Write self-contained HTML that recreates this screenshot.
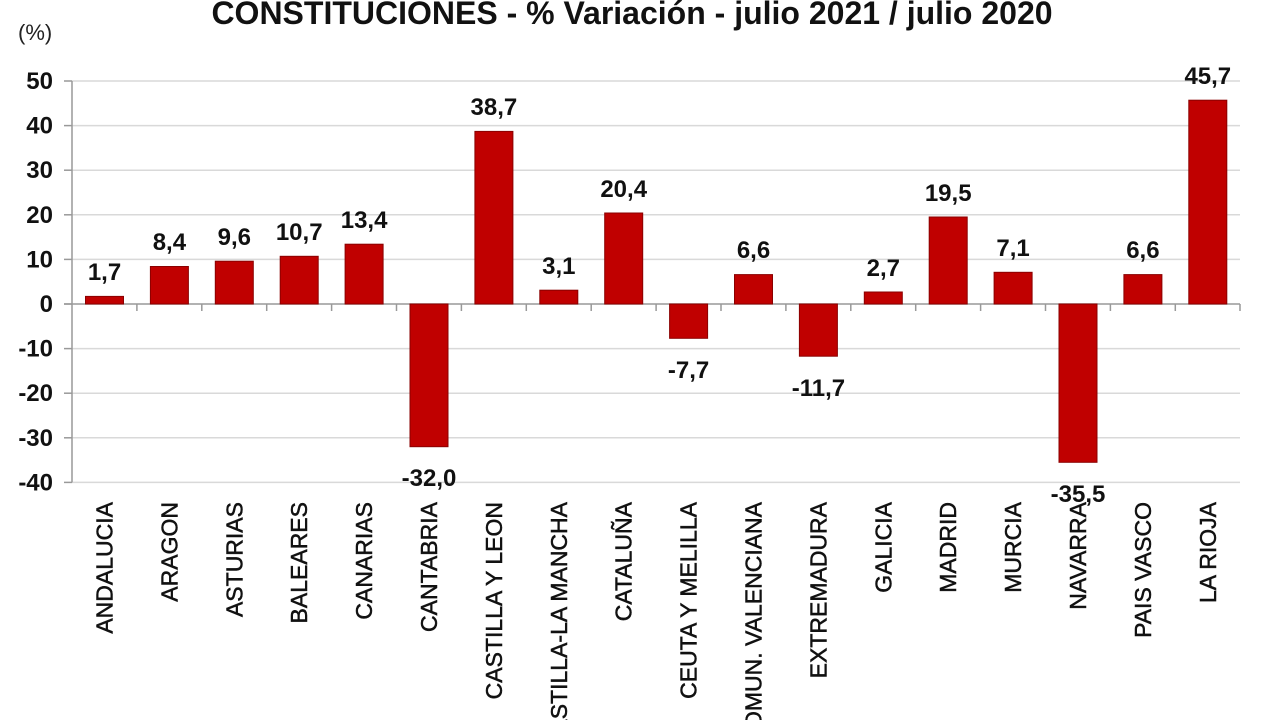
<!DOCTYPE html>
<html><head><meta charset="utf-8"><style>
html,body{margin:0;padding:0;background:#fff;}
svg{display:block;font-family:"Liberation Sans",sans-serif;}
</style></head><body>
<svg width="1280" height="720" viewBox="0 0 1280 720">
<text x="632" y="24" font-size="32" font-weight="bold" text-anchor="middle" fill="#111">CONSTITUCIONES - % Variación - julio 2021 / julio 2020</text>
<text x="18" y="40" font-size="22" fill="#222">(%)</text>
<g stroke="#d9d9d9" stroke-width="1.5">
<line x1="72" y1="81" x2="1240" y2="81"/><line x1="72" y1="125.6" x2="1240" y2="125.6"/><line x1="72" y1="170.2" x2="1240" y2="170.2"/><line x1="72" y1="214.8" x2="1240" y2="214.8"/><line x1="72" y1="259.4" x2="1240" y2="259.4"/><line x1="72" y1="348.6" x2="1240" y2="348.6"/><line x1="72" y1="393.2" x2="1240" y2="393.2"/><line x1="72" y1="437.8" x2="1240" y2="437.8"/><line x1="72" y1="482.4" x2="1240" y2="482.4"/>
</g>
<g stroke="#999" stroke-width="1.5">
<line x1="72" y1="81" x2="72" y2="482.4"/>
<line x1="64" y1="81" x2="72" y2="81"/><line x1="64" y1="125.6" x2="72" y2="125.6"/><line x1="64" y1="170.2" x2="72" y2="170.2"/><line x1="64" y1="214.8" x2="72" y2="214.8"/><line x1="64" y1="259.4" x2="72" y2="259.4"/><line x1="64" y1="304" x2="72" y2="304"/><line x1="64" y1="348.6" x2="72" y2="348.6"/><line x1="64" y1="393.2" x2="72" y2="393.2"/><line x1="64" y1="437.8" x2="72" y2="437.8"/><line x1="64" y1="482.4" x2="72" y2="482.4"/>
<line x1="64" y1="304" x2="1240" y2="304"/>
<line x1="136.9" y1="304" x2="136.9" y2="311"/><line x1="201.8" y1="304" x2="201.8" y2="311"/><line x1="266.7" y1="304" x2="266.7" y2="311"/><line x1="331.6" y1="304" x2="331.6" y2="311"/><line x1="396.5" y1="304" x2="396.5" y2="311"/><line x1="461.4" y1="304" x2="461.4" y2="311"/><line x1="526.3" y1="304" x2="526.3" y2="311"/><line x1="591.2" y1="304" x2="591.2" y2="311"/><line x1="656.1" y1="304" x2="656.1" y2="311"/><line x1="721" y1="304" x2="721" y2="311"/><line x1="785.9" y1="304" x2="785.9" y2="311"/><line x1="850.8" y1="304" x2="850.8" y2="311"/><line x1="915.7" y1="304" x2="915.7" y2="311"/><line x1="980.6" y1="304" x2="980.6" y2="311"/><line x1="1045.5" y1="304" x2="1045.5" y2="311"/><line x1="1110.4" y1="304" x2="1110.4" y2="311"/><line x1="1175.3" y1="304" x2="1175.3" y2="311"/><line x1="1240" y1="304" x2="1240" y2="311"/>
</g>
<g font-size="24" font-weight="bold" fill="#111" text-anchor="end">
<text x="53" y="89">50</text><text x="53" y="133.6">40</text><text x="53" y="178.2">30</text><text x="53" y="222.8">20</text><text x="53" y="267.4">10</text><text x="53" y="312">0</text><text x="53" y="356.6">-10</text><text x="53" y="401.2">-20</text><text x="53" y="445.8">-30</text><text x="53" y="490.4">-40</text>
</g>
<g fill="#c00000" stroke="#8a0000" stroke-width="1">
<rect x="85.5" y="296.4" width="38" height="7.6"/>
<rect x="150.4" y="266.5" width="38" height="37.5"/>
<rect x="215.3" y="261.2" width="38" height="42.8"/>
<rect x="280.2" y="256.3" width="38" height="47.7"/>
<rect x="345.1" y="244.2" width="38" height="59.8"/>
<rect x="410" y="304" width="38" height="142.7"/>
<rect x="474.9" y="131.4" width="38" height="172.6"/>
<rect x="539.8" y="290.2" width="38" height="13.8"/>
<rect x="604.7" y="213" width="38" height="91"/>
<rect x="669.6" y="304" width="38" height="34.3"/>
<rect x="734.5" y="274.6" width="38" height="29.4"/>
<rect x="799.4" y="304" width="38" height="52.2"/>
<rect x="864.3" y="292" width="38" height="12"/>
<rect x="929.2" y="217" width="38" height="87"/>
<rect x="994.1" y="272.3" width="38" height="31.7"/>
<rect x="1059" y="304" width="38" height="158.3"/>
<rect x="1123.9" y="274.6" width="38" height="29.4"/>
<rect x="1188.8" y="100.2" width="38" height="203.8"/>
</g>
<g font-size="24" font-weight="bold" fill="#111" text-anchor="middle">
<text x="104.5" y="280">1,7</text><text x="169.4" y="250">8,4</text><text x="234.3" y="245">9,6</text><text x="299.2" y="240">10,7</text><text x="364.1" y="228">13,4</text><text x="429" y="486">-32,0</text><text x="493.9" y="115">38,7</text><text x="558.8" y="274">3,1</text><text x="623.7" y="197">20,4</text><text x="688.6" y="378">-7,7</text><text x="753.5" y="258">6,6</text><text x="818.4" y="396">-11,7</text><text x="883.3" y="276">2,7</text><text x="948.2" y="201">19,5</text><text x="1013.1" y="256">7,1</text><text x="1078" y="502">-35,5</text><text x="1142.9" y="258">6,6</text><text x="1207.8" y="84">45,7</text>
</g>
<g font-size="23" fill="#111" stroke="#111" stroke-width="0.5" text-anchor="end">
<text transform="translate(112.5,502) rotate(-90)">ANDALUCIA</text>
<text transform="translate(177.4,502) rotate(-90)">ARAGON</text>
<text transform="translate(242.3,502) rotate(-90)">ASTURIAS</text>
<text transform="translate(307.2,502) rotate(-90)">BALEARES</text>
<text transform="translate(372.1,502) rotate(-90)">CANARIAS</text>
<text transform="translate(437,502) rotate(-90)">CANTABRIA</text>
<text transform="translate(501.9,502) rotate(-90)">CASTILLA Y LEON</text>
<text transform="translate(566.8,502) rotate(-90)">CASTILLA-LA MANCHA</text>
<text transform="translate(631.7,502) rotate(-90)">CATALUÑA</text>
<text transform="translate(696.6,502) rotate(-90)">CEUTA Y MELILLA</text>
<text transform="translate(761.5,502) rotate(-90)">COMUN. VALENCIANA</text>
<text transform="translate(826.4,502) rotate(-90)">EXTREMADURA</text>
<text transform="translate(891.3,502) rotate(-90)">GALICIA</text>
<text transform="translate(956.2,502) rotate(-90)">MADRID</text>
<text transform="translate(1021.1,502) rotate(-90)">MURCIA</text>
<text transform="translate(1086,502) rotate(-90)">NAVARRA</text>
<text transform="translate(1150.9,502) rotate(-90)">PAIS VASCO</text>
<text transform="translate(1215.8,502) rotate(-90)">LA RIOJA</text>
</g>
</svg>
</body></html>
